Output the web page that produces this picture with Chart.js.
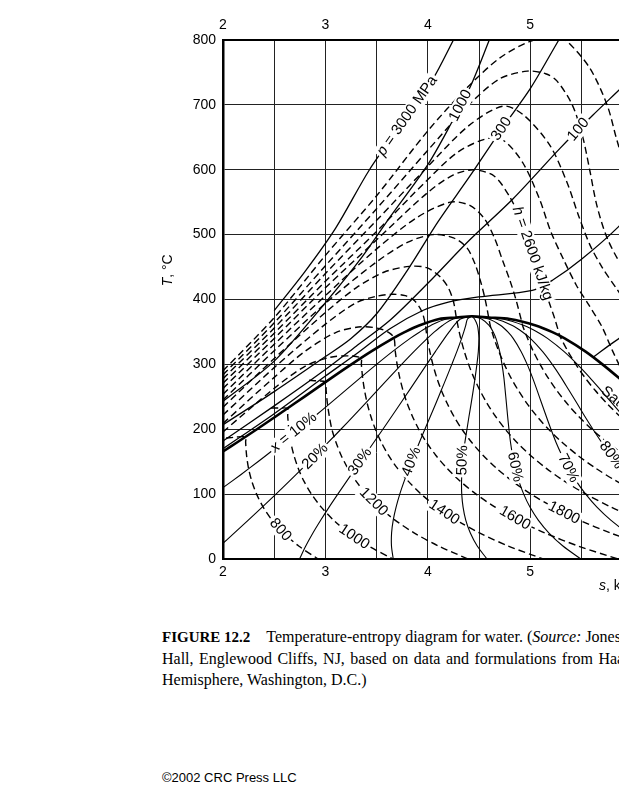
<!DOCTYPE html>
<html>
<head>
<meta charset="utf-8">
<script src="https://cdn.jsdelivr.net/npm/chart.js@4.4.1/dist/chart.umd.min.js"></script>
<style>
  body { margin: 0; width: 619px; height: 800px; overflow: hidden; position: relative; background: #fff; }
  #wrap { position: absolute; left: 0; top: 0; width: 745px; height: 600px; }
  .cap { position: absolute; left: 162px; top: 626px; font: 16px "Liberation Serif", "Times New Roman", serif; line-height: 21px; color: #000; }
  .cap div { white-space: nowrap; }
  .cap b { font-size: 15px; }
  .copy { position: absolute; left: 162px; top: 770px; font: 13px "Liberation Sans", Arial, sans-serif; color: #000; }
</style>
</head>
<body>
<div id="wrap"><canvas id="ts" width="745" height="600"></canvas></div>
<div class="cap">
  <div><b>FIGURE 12.2</b><span style="margin-left:16px">Temperature-entropy diagram for water. (<i>Source:</i> Jones, J.B. and Dugan, R.E. 1996. <i>Engineering Thermodynamics</i>, Prentice</span></div>
  <div style="word-spacing:1.5px">Hall, Englewood Cliffs, NJ, based on data and formulations from Haar, L., Gallagher, J.S., and Kell, G.S. 1984. <i>NBS/NRC Steam Tables</i>.</div>
  <div>Hemisphere, Washington, D.C.)</div>
</div>
<div class="copy">©2002 CRC Press LLC</div>
<script>
// axis ticks
const sTicks = [2, 3, 4, 5, 6, 7];
const tTicks = [0, 100, 200, 300, 400, 500, 600, 700, 800];

// saturation line [s kJ/kg.K, T degC]
const satLine = [[2.0,165.7],[2.1396,180],[2.3309,200],[2.5178,220],[2.7015,240],[2.8838,260],[3.0668,280],[3.2534,300],[3.448,320],[3.6594,340],[3.7777,350],[3.9147,360],[4.1106,370],[4.278,372.2],[4.43,374.14],[4.594,372.35],[4.80,370],[5.053,360],[5.211,350],[5.336,340],[5.537,320],[5.705,300],[5.858,280],[6.002,260],[6.144,240],[6.286,220],[6.432,200],[6.585,180],[6.750,160],[6.930,140],[7.13,120]];

// quality lines
const x10 = [[4.43,374.14],[4.18,370],[4.029,360],[3.921,350],[3.827,340],[3.657,320],[3.499,300],[3.346,280],[3.196,260],[3.046,240],[2.895,220],[2.741,200],[2.584,180],[2.423,160],[2.258,140],[2.088,120],[1.912,100]];
const x20 = [[4.43,374.14],[4.249,370],[4.142,360],[4.064,350],[3.995,340],[3.866,320],[3.744,300],[3.625,280],[3.507,260],[3.39,240],[3.271,220],[3.151,200],[3.029,180],[2.904,160],[2.777,140],[2.648,120],[2.517,100],[2.383,80],[2.247,60],[2.109,40],[1.971,20]];
const x30 = [[4.43,374.14],[4.318,370],[4.256,360],[4.208,350],[4.162,340],[4.075,320],[3.989,300],[3.904,280],[3.819,260],[3.734,240],[3.648,220],[3.561,200],[3.473,180],[3.385,160],[3.296,140],[3.208,120],[3.121,100],[3.036,80],[2.955,60],[2.878,40],[2.808,20],[2.747,0]];
const x40 = [[4.43,374.14],[4.387,370],[4.37,360],[4.351,350],[4.33,340],[4.284,320],[4.234,300],[4.183,280],[4.131,260],[4.079,240],[4.025,220],[3.971,200],[3.918,180],[3.866,160],[3.816,140],[3.769,120],[3.726,100],[3.69,80],[3.662,60],[3.646,40],[3.645,20],[3.662,0]];
const x50 = [[4.43,374.14],[4.456,370],[4.484,360],[4.494,350],[4.498,340],[4.493,320],[4.479,300],[4.462,280],[4.443,260],[4.423,240],[4.402,220],[4.382,200],[4.362,180],[4.346,160],[4.335,140],[4.329,120],[4.331,100],[4.344,80],[4.37,60],[4.415,40],[4.482,20],[4.578,0]];
const x60 = [[4.43,374.14],[4.525,370],[4.598,360],[4.638,350],[4.665,340],[4.701,320],[4.724,300],[4.742,280],[4.755,260],[4.767,240],[4.779,220],[4.792,200],[4.807,180],[4.827,160],[4.854,140],[4.889,120],[4.936,100],[4.997,80],[5.078,60],[5.183,40],[5.319,20],[5.494,0]];
const x70 = [[4.43,374.14],[4.594,370],[4.712,360],[4.781,350],[4.833,340],[4.91,320],[4.97,300],[5.021,280],[5.067,260],[5.111,240],[5.156,220],[5.202,200],[5.251,180],[5.308,160],[5.373,140],[5.449,120],[5.541,100],[5.651,80],[5.786,60],[5.952,40],[6.156,20]];
const x80 = [[4.43,374.14],[4.663,370],[4.825,360],[4.924,350],[5.001,340],[5.119,320],[5.215,300],[5.3,280],[5.378,260],[5.456,240],[5.532,220],[5.612,200],[5.696,180],[5.789,160],[5.892,140],[6.01,120]];
const x90 = [[4.43,374.14],[4.732,370],[4.939,360],[5.068,350],[5.168,340],[5.328,320],[5.46,300],[5.579,280],[5.69,260],[5.8,240],[5.909,220],[6.022,200]];

// isenthalps, kJ/kg
const h800 = [[2.03,186.5],[2.12,187.8],[2.2195,188.3],[2.221,180],[2.23,160],[2.249,140],[2.281,120],[2.328,100],[2.392,80],[2.478,60],[2.592,40],[2.739,20],[2.929,0]];
const h1000 = [[2.47,232.8],[2.55,232.6],[2.629,232.1],[2.632,220],[2.643,200],[2.662,180],[2.692,160],[2.734,140],[2.79,120],[2.864,100],[2.959,80],[3.079,60],[3.23,40],[3.421,20],[3.661,0]];
const h1200 = [[2.84,275.5],[2.92,274.5],[3.0017,272.9],[3.007,260],[3.019,240],[3.038,220],[3.063,200],[3.103,180],[3.153,160],[3.218,140],[3.299,120],[3.4,100],[3.525,80],[3.679,60],[3.869,40],[4.104,20],[4.393,0]];
const h1400 = [[2.0,196],[2.5,263],[2.8,297],[3.05,311],[3.25,313],[3.347,309.6],[3.351,300],[3.363,280],[3.382,260],[3.408,240],[3.443,220],[3.488,200],[3.545,180],[3.615,160],[3.702,140],[3.808,120],[3.935,100],[4.091,80],[4.279,60],[4.508,40],[4.786,20],[5.125,0]];
const h1600 = [[2.0,209],[2.5,280],[2.8,320],[3.1,349],[3.35,358],[3.53,355],[3.62,349],[3.669,340.8],[3.682,320],[3.7,300],[3.725,280],[3.757,260],[3.798,240],[3.849,220],[3.911,200],[3.986,180],[4.077,160],[4.186,140],[4.316,120],[4.471,100],[4.657,80],[4.879,60],[5.146,40],[5.468,20],[5.858,0]];
const h1800 = [[2.0,222],[2.5,295],[3.0,362],[3.3,395],[3.5,405],[3.65,408],[3.78,406],[3.87,398],[3.94,382],[3.974,363],[3.985,350],[3.995,340],[4.019,320],[4.049,300],[4.086,280],[4.132,260],[4.188,240],[4.254,220],[4.333,200],[4.427,180],[4.538,160],[4.67,140],[4.825,120],[5.007,100],[5.224,80],[5.479,60],[5.785,40],[6.15,20]];
const h2000 = [[2.0,234],[2.5,309],[3.0,380],[3.3,418],[3.57,442],[3.82,451],[3.99,449],[4.12,435],[4.2,418],[4.25,397],[4.278,372.2],[4.293,360],[4.306,350],[4.321,340],[4.356,320],[4.398,300],[4.448,280],[4.508,260],[4.578,240],[4.66,220],[4.756,200],[4.868,180],[5.0,160],[5.154,140],[5.333,120],[5.544,100],[5.79,80],[6.079,60]];
const h2200 = [[2.0,245],[2.5,321],[3.0,394],[3.5,458],[3.8,488],[4.05,500],[4.25,495],[4.38,480],[4.46,455],[4.52,425],[4.56,400],[4.594,372.35],[4.609,360],[4.627,350],[4.647,340],[4.693,320],[4.747,300],[4.809,280],[4.883,260],[4.967,240],[5.065,220],[5.178,200],[5.31,180],[5.462,160],[5.638,140],[5.842,120],[6.079,100]];
const h2400 = [[2.0,254],[2.5,331],[3.0,406],[3.5,478],[3.9,527],[4.22,550],[4.41,545],[4.55,525],[4.65,495],[4.73,460],[4.8,430],[4.86,400],[4.917,365.4],[4.925,360],[4.948,350],[4.974,340],[5.03,320],[5.096,300],[5.171,280],[5.258,260],[5.357,240],[5.471,220],[5.601,200],[5.751,180],[5.923,160],[6.122,140]];
const h2600 = [[2.0,263],[2.5,340],[3.0,418],[3.5,492],[4.0,565],[4.25,592],[4.45,600],[4.65,590],[4.8,558],[4.9,525],[5.0,480],[5.1,437],[5.17,402],[5.24,370],[5.289,343.8],[5.3,340],[5.368,320],[5.445,300],[5.532,280],[5.633,260],[5.747,240],[5.876,220],[6.024,200]];
const h2800 = [[2.0,271],[2.5,348],[3.0,428],[3.5,505],[4.0,585],[4.3,628],[4.6,649],[4.75,644],[4.93,610],[5.09,555],[5.2,505],[5.33,460],[5.45,422],[5.57,392],[5.7,358],[5.8,322],[5.9,290],[6.0,268]];
const h3000 = [[2.0,278],[2.5,356],[3.0,440],[3.5,522],[4.0,605],[4.4,668],[4.73,698],[4.93,685],[5.19,638],[5.36,580],[5.47,530],[5.58,485],[5.7,450],[5.85,415],[6.0,380]];
const h3200 = [[2.0,284],[2.5,364],[3.0,452],[3.5,540],[4.0,630],[4.4,700],[4.7,740],[4.97,752],[5.15,748],[5.26,737],[5.41,700],[5.51,652],[5.58,600],[5.65,545],[5.75,495],[5.9,450],[6.05,420]];
const h3400 = [[2.0,290],[2.5,372],[3.0,468],[3.5,560],[4.0,660],[4.38,726],[4.7,772],[5.0,798],[5.26,806],[5.36,798],[5.58,757],[5.75,700],[5.84,649],[5.95,590],[6.05,540]];

// isobars, MPa
const p10 = [[5.614,311],[5.75,327],[5.944,350],[6.212,400],[6.45,450]];
const p30 = [[2.0,170],[2.5,224],[3.0,282],[3.3,316],[3.63,355],[3.95,383],[4.2,396],[4.5,404],[5.02,414],[5.22,430],[5.5,462],[5.86,512],[6.1,555],[6.35,605]];
const p100 = [[2.0,182],[2.5,236],[3.0,292],[3.3,328],[3.63,368],[4.0,425],[4.41,492],[4.83,555],[5.29,633],[5.61,684],[5.9,728],[6.3,790],[6.4,805]];
const p300 = [[2.0,207],[2.5,258],[3.0,312],[3.25,340],[3.5,378],[3.8,445],[4.1,520],[4.41,590],[4.73,665],[5.0,725],[5.26,795],[5.3,806]];
const p1000 = [[2.0,243],[2.5,305],[3.0,395],[3.36,466],[3.63,527],[4.0,608],[4.23,672],[4.42,730],[4.6,800],[4.62,808]];
const p3000 = [[2.5,383],[2.8,443],[3.1,510],[3.43,600],[3.75,672],[4.05,740],[4.25,800],[4.27,806]];

// in-plot labels: data position and text angle (deg)
const curveLabels = [
    { lead: 'p', text: ' = 3000 MPa', s: 3.8, t: 683, angle: -55 },
    { text: '1000', s: 4.32, t: 699, angle: -63 },
    { text: '300', s: 4.72, t: 663, angle: -56 },
    { text: '100', s: 5.47, t: 662, angle: -50 },
    { lead: 'h', text: ' = 2600 kJ/kg', s: 5.02, t: 471, angle: 71 },
    { lead: 'x', text: ' = 10%', s: 2.69, t: 195, angle: -39 },
    { text: '20%', s: 2.9, t: 158, angle: -45 },
    { text: '30%', s: 3.34, t: 150, angle: -55 },
    { text: '40%', s: 3.84, t: 150, angle: -69 },
    { text: '50%', s: 4.34, t: 152, angle: -88 },
    { text: '60%', s: 4.85, t: 142, angle: 78 },
    { text: '70%', s: 5.37, t: 140, angle: 63 },
    { text: '80%', s: 5.79, t: 160, angle: 54 },
    { text: '800', s: 2.56, t: 45, angle: 48 },
    { text: '1000', s: 3.28, t: 34, angle: 34 },
    { text: '1200', s: 3.47, t: 88, angle: 45 },
    { text: '1400', s: 4.16, t: 72, angle: 34 },
    { text: '1600', s: 4.85, t: 63, angle: 30 },
    { text: '1800', s: 5.33, t: 71, angle: 27 },
    { text: 'Saturation line', s: 5.71, t: 262, angle: 40, left: true }
];

const FONT = '"Liberation Sans", Arial, sans-serif';
const toXY = pts => pts.map(([s, t]) => ({ x: s, y: t }));

function curve(pts, width, dash) {
    return {
        data: toXY(pts),
        showLine: true,
        borderColor: '#000',
        borderWidth: width,
        borderDash: dash || [],
        pointRadius: 0,
        tension: 0.3,
        fill: false
    };
}

const datasets = [
    ...[h800, h1000, h1200, h1400, h1600, h1800, h2000, h2200, h2400, h2600, h2800, h3000, h3200, h3400]
        .map(d => curve(d, 1.4, [7, 4])),
    ...[x10, x20, x30, x40, x50, x60, x70, x80, x90].map(d => curve(d, 1.1)),
    ...[p10, p30, p100, p300, p1000, p3000].map(d => curve(d, 1.3)),
    curve(satLine, 2.6)
];

// text along curves, with a white gap behind
function drawLabel(ctx, x, y, l) {
    const font = '15px ' + FONT;
    ctx.font = 'italic ' + font;
    const lw = l.lead ? ctx.measureText(l.lead).width : 0;
    ctx.font = font;
    const tw = ctx.measureText(l.text).width;
    const w = lw + tw;
    const x0 = l.left ? 0 : -w / 2;
    ctx.save();
    ctx.translate(x, y);
    ctx.rotate(l.angle * Math.PI / 180);
    if (!l.left) {
        ctx.fillStyle = '#fff';
        ctx.fillRect(x0 - 2, -8, w + 4, 16);
    }
    ctx.fillStyle = '#000';
    ctx.textBaseline = 'middle';
    ctx.textAlign = 'left';
    if (l.lead) {
        ctx.font = 'italic ' + font;
        ctx.fillText(l.lead, x0, 0);
    }
    ctx.font = font;
    ctx.fillText(l.text, x0 + lw, 0);
    ctx.restore();
}

const labelPlugin = {
    id: 'curveLabels',
    afterDatasetsDraw(chart) {
        const { ctx, chartArea, scales } = chart;
        ctx.save();
        ctx.beginPath();
        ctx.rect(chartArea.left, chartArea.top, chartArea.right - chartArea.left, chartArea.bottom - chartArea.top);
        ctx.clip();
        curveLabels.forEach(l => {
            drawLabel(ctx, scales.x.getPixelForValue(l.s), scales.y.getPixelForValue(l.t), l);
        });
        ctx.restore();

        // axis titles
        ctx.save();
        ctx.fillStyle = '#000';
        ctx.textBaseline = 'middle';
        ctx.translate(chartArea.left - 55, scales.y.getPixelForValue(445));
        ctx.rotate(-Math.PI / 2);
        ctx.font = 'italic 14px ' + FONT;
        const tW = ctx.measureText('T').width;
        ctx.font = '14px ' + FONT;
        const rest = ', °C';
        const total = tW + ctx.measureText(rest).width;
        ctx.font = 'italic 14px ' + FONT;
        ctx.fillText('T', -total / 2, 0);
        ctx.font = '14px ' + FONT;
        ctx.fillText(rest, -total / 2 + tW, 0);
        ctx.restore();

        ctx.save();
        ctx.fillStyle = '#000';
        ctx.textBaseline = 'middle';
        const sx = scales.x.getPixelForValue(5.67);
        const sy = chartArea.bottom + 27;
        ctx.font = 'italic 14px ' + FONT;
        ctx.fillText('s', sx, sy);
        const sW = ctx.measureText('s').width;
        ctx.font = '14px ' + FONT;
        ctx.fillText(', kJ/(kg·K)', sx + sW, sy);
        ctx.restore();
    }
};

const tickFont = { family: FONT, size: 14 };
const sLabel = v => (sTicks.includes(v) ? v : '');

new Chart(document.getElementById('ts'), {
    type: 'scatter',
    data: { datasets },
    options: {
        responsive: false,
        animation: false,
        devicePixelRatio: 1,
        layout: { padding: { left: 0, right: 9, top: 0, bottom: 0 } },
        plugins: { legend: { display: false }, tooltip: { enabled: false } },
        scales: {
            x: {
                type: 'linear', position: 'bottom', min: 2, max: 7,
                afterFit: s => { s.height = 41; },
                ticks: { stepSize: 0.5, autoSkip: false, padding: 5, color: '#000', font: tickFont, callback: sLabel },
                grid: { color: '#222', lineWidth: 1, drawTicks: false },
                border: { color: '#000', width: 2 }
            },
            x2: {
                type: 'linear', position: 'top', min: 2, max: 7,
                afterFit: s => { s.height = 40; },
                ticks: { stepSize: 0.5, autoSkip: false, padding: 6, color: '#000', font: tickFont, callback: sLabel },
                grid: { display: false, drawTicks: false },
                border: { color: '#000', width: 2 }
            },
            y: {
                type: 'linear', min: 0, max: 800,
                afterFit: s => { s.width = 223; },
                ticks: { stepSize: 100, padding: 7, color: '#000', font: tickFont,
                    callback: v => (tTicks.includes(v) ? v : '') },
                grid: { color: '#222', drawTicks: false,
                    lineWidth: c => (c.tick && c.tick.value === 800 ? 2 : 1) },
                border: { color: '#000', width: 2.5 }
            }
        }
    },
    plugins: [labelPlugin]
});
</script>
</body>
</html>
